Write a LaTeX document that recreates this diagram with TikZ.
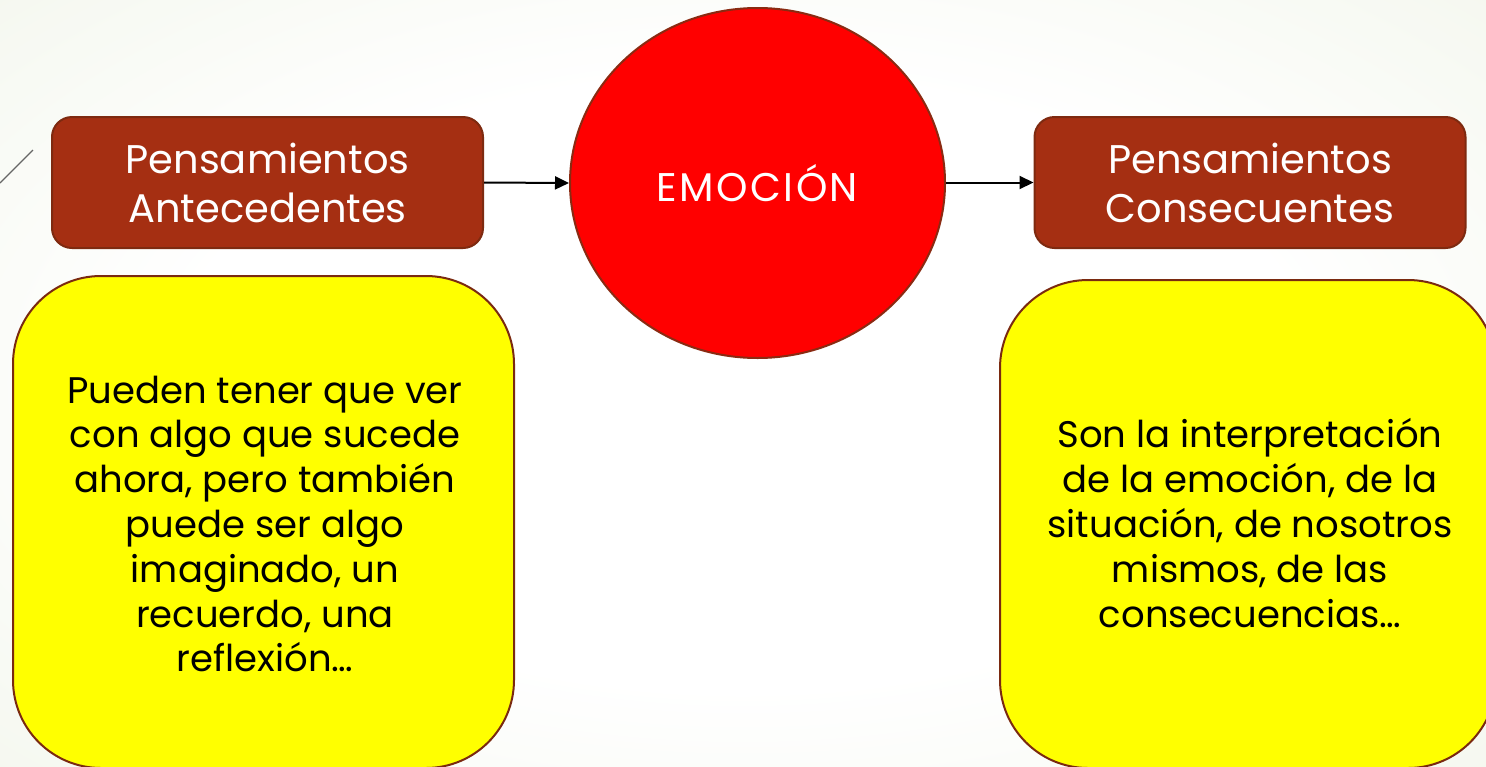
\documentclass[tikz,border=0pt]{standalone}
\usepackage{fontspec}
\setmainfont{Poppins}
\usetikzlibrary{arrows.meta,shapes.geometric}
\definecolor{bgedge}{HTML}{E4EDD6}
\definecolor{bgmid}{HTML}{F4F7EE}
\definecolor{brownfill}{HTML}{A52F12}
\definecolor{brownline}{HTML}{7E2A10}
\definecolor{redline}{HTML}{8A2A12}
\definecolor{yelline}{HTML}{7A2A10}
\definecolor{yelfill}{HTML}{FFFF00}
\pgfdeclareradialshading{bgshade}{\pgfpoint{0bp}{0bp}}{color(0bp)=(white); color(18bp)=(white); color(35bp)=(bgmid); color(55bp)=(bgedge); color(80bp)=(bgedge)}
\tikzset{
  brownbox/.style={draw=brownline, line width=1pt, fill=brownfill, rounded corners=10pt,
    minimum width=215.5pt, minimum height=65.5pt, text=white, align=center,
    font=\fontsize{20}{24.5}\selectfont, inner sep=0pt},
  emocion/.style={ellipse, draw=redline, line width=1pt, fill=red,
    minimum width=187.5pt, minimum height=175pt, inner sep=0pt, text=white,
    font=\fontsize{20}{24}\selectfont\addfontfeatures{LetterSpace=6}},
  yelbox/.style={draw=yelline, line width=1pt, fill=yelfill, rounded corners=44pt,
    inner sep=0pt},
  yeltext/.style={align=center, text=black, font=\fontsize{18.5}{22.4}\selectfont, inner sep=0pt},
  conn/.style={line width=1pt, -{Triangle[length=7pt,width=6.5pt]}},
}
\begin{document}
\begin{tikzpicture}[x=0.5pt,y=-0.5pt]
\useasboundingbox (0,0) rectangle (1486,766);
\clip (0,0) rectangle (1486,766);
\shade[shading=bgshade] (-40,-40) rectangle (1526,806);
\draw[gray!80!black, line width=0.6pt] (0,183) -- (33,150);

\node[brownbox] (pa) at (267.5,182.5) {Pensamientos\\Antecedentes};
\node[brownbox] (pc) at (1250,182.5) {Pensamientos\\Consecuentes};
\node[emocion] (em) at (757.5,183) {EMOCIÓN};

\node[yelbox, minimum width=250.5pt, minimum height=246pt] (ya) at (263.5,522) {};
\node[yelbox, minimum width=248pt, minimum height=244pt] (yc) at (1248,524) {};

\node[yeltext] (ta) at (265,524) {Pueden tener que ver\\con algo que sucede\\ahora, pero también\\puede ser algo\\imaginado, un\\recuerdo, una\\reflexión…};
\node[yeltext] (tc) at (1250,523) {Son la interpretación\\de la emoción, de la\\situación, de nosotros\\mismos, de las\\consecuencias…};

\draw[conn] (pa.east) -- (em.west);
\draw[conn] (em.east |- pc.west) -- (pc.west);
\end{tikzpicture}
\end{document}
